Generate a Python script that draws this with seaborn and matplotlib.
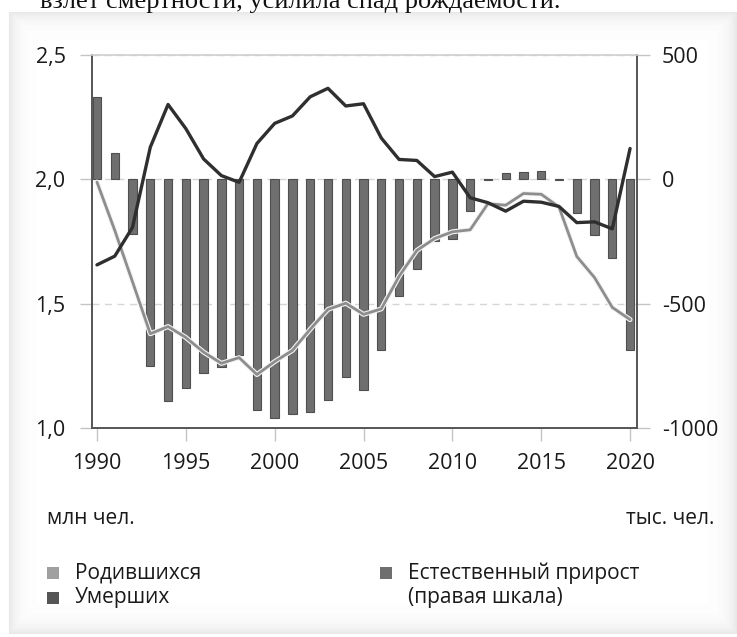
import numpy as np
import matplotlib.pyplot as plt
import seaborn as sns
from matplotlib.patches import Rectangle
from matplotlib import patheffects

# Births, deaths (mln people, left scale) and natural increase (thousand, right scale)
years = list(range(1990, 2021))
births = [1.989, 1.795, 1.588, 1.379, 1.408, 1.364, 1.305, 1.260, 1.283, 1.215,
          1.267, 1.312, 1.397, 1.477, 1.502, 1.457, 1.479, 1.610, 1.714, 1.762,
          1.789, 1.797, 1.902, 1.896, 1.943, 1.940, 1.889, 1.690, 1.605, 1.485, 1.436]
deaths = [1.656, 1.691, 1.807, 2.129, 2.301, 2.204, 2.082, 2.015, 1.988, 2.144,
          2.225, 2.255, 2.332, 2.366, 2.295, 2.304, 2.166, 2.080, 2.076, 2.011,
          2.029, 1.926, 1.906, 1.872, 1.912, 1.908, 1.891, 1.826, 1.829, 1.801, 2.124]
natural = [333, 104, -219, -750, -893, -840, -777, -755, -705, -929,
           -958, -943, -935, -889, -793, -847, -687, -470, -362, -249,
           -240, -129, -4, 24, 31, 32, -2, -136, -224, -316, -688]

left_ticks = [1.0, 1.5, 2.0, 2.5]
left_labels = ["1,0", "1,5", "2,0", "2,5"]
right_ticks = [-1000, -500, 0, 500]
right_labels = ["-1000", "-500", "0", "500"]
x_ticks = list(range(1990, 2021, 5))

sns.set_theme(style="white")
plt.rcParams["font.family"] = ["Open Sans", "DejaVu Sans"]

W, H = 737, 637
fig = plt.figure(figsize=(W / 100, H / 100), dpi=100)
fig.patch.set_facecolor("white")

# card background with a soft inner shadow
yy, xx = np.mgrid[0:H, 0:W]
inside = (xx >= 9) & (yy >= 12) & (yy <= 633)
d = np.minimum.reduce([xx - 9, yy - 12, 633 - yy, W - 1 - xx]).astype(float)
shade = np.where(inside, 1 - 0.09 * np.exp(-np.clip(d, 0, None) / 9), 1.0)
bg = fig.add_axes([0, 0, 1, 1])
bg.imshow(shade, cmap="gray", vmin=0, vmax=1, aspect="auto", extent=[0, 1, 0, 1])
bg.set_axis_off()
bg.set_zorder(-1)

ax = fig.add_axes([92 / W, 1 - 428 / H, 545 / W, 373 / H])
ax2 = ax.twinx()
ax.set_zorder(2)
ax2.set_zorder(1)
ax.patch.set_visible(False)
ax2.patch.set_visible(False)

sns.barplot(x=years, y=natural, native_scale=True, width=0.47, ax=ax2,
            color="#6f6f6f", edgecolor="#4f4f4f", linewidth=0.8, saturation=1)

sns.lineplot(x=years, y=births, ax=ax, color="#8d8d8d", lw=2,
             path_effects=[patheffects.withStroke(linewidth=3.6, foreground="#f4f4f4")])
sns.lineplot(x=years, y=deaths, ax=ax, color="#2f2f2f", lw=2.4)

ax.set_xlim(1989.72, 2020.39)
ax.set_xticks(x_ticks)
ax.set_xticklabels([str(t) for t in x_ticks])
ax.set_ylim(1.0, 2.5)
ax.set_yticks(left_ticks)
ax.set_yticklabels(left_labels)
ax2.set_ylim(-1000, 500)
ax2.set_yticks(right_ticks)
ax2.set_yticklabels(right_labels)
ax.set_xlabel("")
ax.set_ylabel("")
ax2.set_xlabel("")
ax2.set_ylabel("")

ax.grid(False)
ax2.set_axisbelow(True)
ax2.grid(axis="x", color="#d6d6d6", lw=1)
ax2.grid(axis="y", color="#d6d6d6", lw=1, linestyle=(0, (5, 4)))

for s in ["left", "bottom"]:
    ax.spines[s].set_color("#555555")
    ax.spines[s].set_linewidth(1.4)
ax.spines["top"].set_color("#d0d0d0")
ax.spines["right"].set_visible(False)
for s in ["left", "bottom", "top"]:
    ax2.spines[s].set_visible(False)
ax2.spines["right"].set_color("#555555")
ax2.spines["right"].set_linewidth(1.4)

ax.tick_params(axis="y", left=True, length=9, width=1, color="#c4c4c4",
               pad=10, labelsize=15.5, labelcolor="#1a1a1a")
ax.tick_params(axis="x", bottom=True, length=9, width=1, color="#c4c4c4",
               pad=9, labelsize=15.5, labelcolor="#1a1a1a")
ax2.tick_params(axis="y", right=True, length=9, width=1, color="#c4c4c4",
                pad=9, labelsize=15.5, labelcolor="#1a1a1a")

# clipped line of article text above the card
fig.text(561 / W, 1 - 8 / H, "взлет смертности, усилила спад рождаемости.",
         ha="right", va="baseline", fontsize=19, family="Liberation Serif", color="#111111")

fig.text(47 / W, 1 - 518 / H, "млн чел.", ha="left", va="center", fontsize=15, color="#1a1a1a")
fig.text(714 / W, 1 - 518 / H, "тыс. чел.", ha="right", va="center", fontsize=15, color="#1a1a1a")

legend_items = [
    (47, 573, "#a0a0a0", "Родившихся"),
    (47, 598, "#555555", "Умерших"),
    (380, 573, "#6f6f6f", "Естественный прирост"),
]
for x0, yc, col, lab in legend_items:
    fig.add_artist(Rectangle((x0 / W, 1 - (yc + 6) / H), 12 / W, 12 / H,
                             transform=fig.transFigure, facecolor=col, edgecolor="none"))
    fig.text((x0 + 28) / W, 1 - yc / H, lab, ha="left", va="center", fontsize=15, color="#1a1a1a")
fig.text(408 / W, 1 - 598 / H, "(правая шкала)", ha="left", va="center", fontsize=15, color="#1a1a1a")

fig.savefig("out.png", dpi=100)
